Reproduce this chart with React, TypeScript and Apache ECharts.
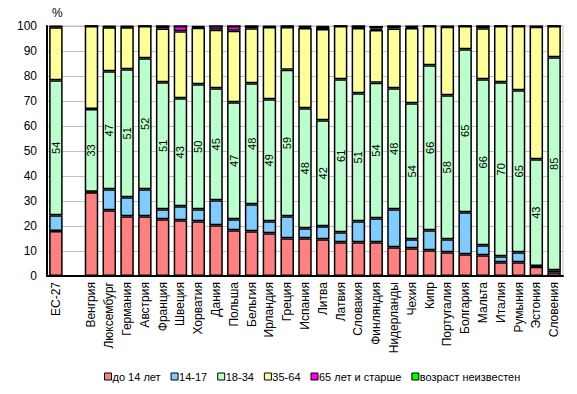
import React, { useEffect, useRef } from "react";
import * as echarts from "echarts";

const categories = [
  "ЕС-27", "", "Венгрия", "Люксембург", "Германия", "Австрия", "Франция", "Швеция",
  "Хорватия", "Дания", "Польша", "Бельгия", "Ирландия", "Греция", "Испания", "Литва",
  "Латвия", "Словакия", "Финляндия", "Нидерланды", "Чехия", "Кипр", "Португалия",
  "Болгария", "Мальта", "Италия", "Румыния", "Эстония", "Словения",
];

const seriesNames = ["до 14 лет", "14-17", "18-34", "35-64", "65 лет и старше", "возраст неизвестен"];

const under14 = [18.0, null, 33.5, 26.3, 23.9, 23.9, 22.7, 22.3, 21.9, 20.3, 18.3, 17.9, 17.1, 15.1, 15.1, 14.7, 13.5, 13.5, 13.5, 11.5, 11.1, 10.3, 9.5, 8.7, 8.3, 5.5, 5.5, 3.7, 1.5];
const age14to17 = [6.3, null, 0.2, 8.4, 7.6, 10.8, 4.0, 5.6, 4.8, 10.0, 4.4, 10.8, 4.8, 8.8, 4.0, 5.2, 4.0, 8.4, 9.6, 15.2, 3.6, 8.0, 5.2, 16.8, 4.0, 2.4, 4.0, 0.3, 0.8];
const age18to34 = [54.0, null, 33.1, 47.2, 51.2, 52.4, 50.8, 43.2, 50.0, 44.8, 46.8, 48.4, 48.8, 58.6, 48.0, 42.4, 61.2, 51.2, 54.2, 48.4, 54.4, 66.0, 57.6, 65.2, 66.4, 69.6, 64.8, 42.7, 85.2];
const age35to64 = [21.2, null, 33.2, 17.6, 16.8, 12.9, 21.5, 26.8, 22.6, 23.4, 28.6, 22.0, 28.9, 17.1, 32.1, 36.5, 21.3, 26.1, 21.1, 23.9, 30.1, 15.7, 27.4, 9.3, 20.4, 22.5, 25.7, 53.0, 12.5];
const age65plus = [0.4, null, 0, 0.3, 0.3, 0, 1.0, 2.1, 0.4, 1.5, 1.9, 0.9, 0.2, 0.4, 0.6, 0.8, 0, 0.8, 0.6, 1.0, 0.6, 0, 0.2, 0, 0.9, 0, 0, 0.2, 0];
const ageUnknown = [0.1, null, 0, 0.2, 0.2, 0, 0, 0, 0.3, 0, 0, 0, 0.2, 0, 0.2, 0.4, 0, 0, 1.0, 0, 0.2, 0, 0.1, 0, 0, 0, 0, 0.1, 0];

const yTicks = { min: 0, max: 100, interval: 10 };

const colors = ["#FF8080", "#80CCFF", "#BBFFCC", "#FFFF99", "#FF00FF", "#00FF00"];

const FONT = "Arial, 'Liberation Sans', sans-serif";

export default function App() {
  const ref = useRef<HTMLDivElement>(null);

  useEffect(() => {
    if (!ref.current) return;
    const chart = echarts.init(ref.current, undefined, { renderer: "svg" });
    const dataSets = [under14, age14to17, age18to34, age35to64, age65plus, ageUnknown];
    const series = dataSets.map((d, i) => ({
      name: seriesNames[i],
      type: "bar" as const,
      stack: "total",
      data: d,
      barWidth: 13.5,
      itemStyle: { color: colors[i], borderColor: "#000", borderWidth: 1.5 },
      label:
        i === 2
          ? {
              show: true,
              position: "inside" as const,
              rotate: 90,
              fontSize: 11,
              fontFamily: FONT,
              color: "#000",
              formatter: (p: any) => (p.value == null ? "" : String(Math.round(p.value))),
            }
          : { show: false },
      emphasis: { disabled: true },
    }));

    chart.setOption({
      animation: false,
      textStyle: { fontFamily: FONT },
      grid: {
        left: 47,
        right: 14,
        top: 26,
        bottom: 118,
        show: true,
        borderColor: "#C0C0C0",
        borderWidth: 1,
        backgroundColor: "transparent",
      },
      legend: {
        top: 366,
        left: 99,
        icon: "rect",
        itemWidth: 7,
        itemHeight: 7,
        itemGap: 10,
        textStyle: { fontSize: 11, color: "#000", fontFamily: FONT, padding: [0, 0, 0, -4] },
        itemStyle: { borderColor: "#000", borderWidth: 1 },
        data: seriesNames,
      },
      graphic: [
        {
          type: "text",
          left: 52,
          top: 7,
          style: { text: "%", fontSize: 12, fontFamily: FONT, fill: "#000" },
        },
      ],
      xAxis: {
        type: "category",
        data: categories,
        axisLine: { show: true, lineStyle: { color: "#000", width: 2 } },
        axisTick: { show: false },
        axisLabel: {
          rotate: 90,
          interval: 0,
          fontSize: 12,
          color: "#000",
          margin: 6,
          fontFamily: FONT,
        },
      },
      yAxis: {
        type: "value",
        min: yTicks.min,
        max: yTicks.max,
        interval: yTicks.interval,
        axisLine: { show: true, lineStyle: { color: "#000", width: 2 } },
        axisTick: { show: false },
        axisLabel: { fontSize: 12, color: "#000", margin: 10, fontFamily: FONT },
        splitLine: { show: true, lineStyle: { color: "#C0C0C0", width: 1 } },
      },
      series,
    });

    return () => chart.dispose();
  }, []);

  return (
    <div
      ref={ref}
      style={{ position: "fixed", left: 0, top: 0, width: 577, height: 394, background: "#fff" }}
    />
  );
}
